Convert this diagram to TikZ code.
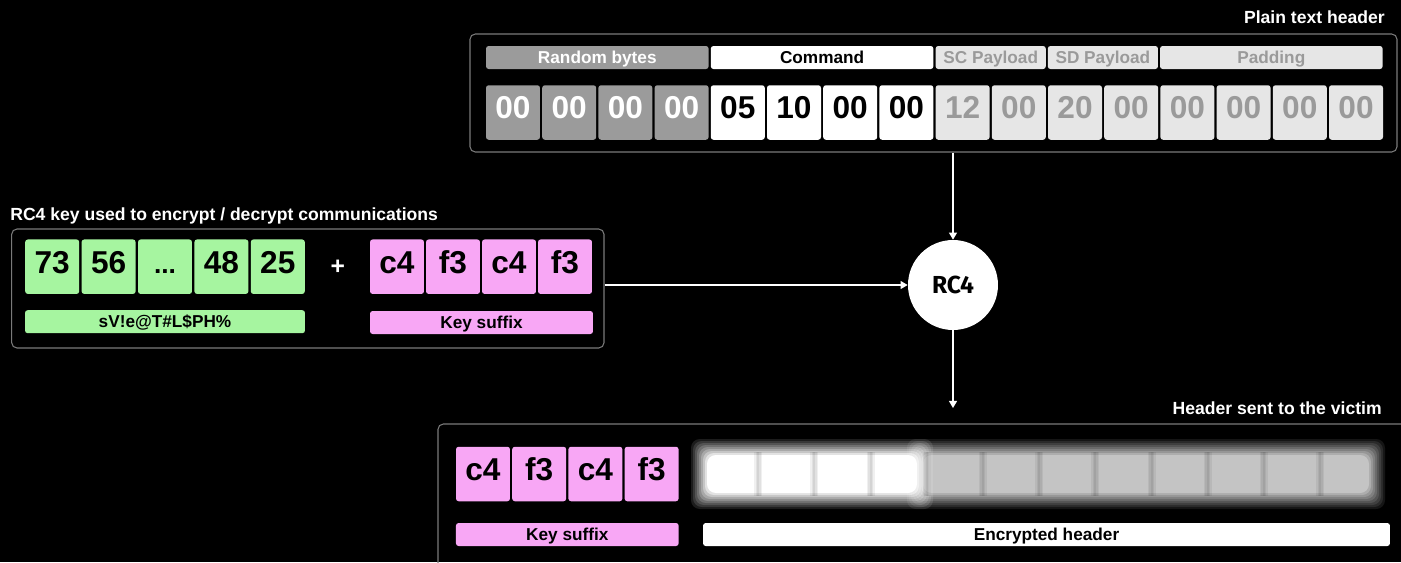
\documentclass[tikz,border=0pt]{standalone}
\usepackage{fontspec}
\setmainfont{Liberation Sans}
\newfontfamily\rcfont{Fira Sans}
\usetikzlibrary{arrows.meta,fit}

\definecolor{rndgray}{HTML}{9B9B9B}
\definecolor{padgray}{HTML}{E6E6E6}
\definecolor{padtext}{HTML}{9A9A9A}
\definecolor{keygreen}{HTML}{A6F5A0}
\definecolor{keypink}{HTML}{F8A7F5}
\definecolor{framegray}{HTML}{7A7A7A}
\definecolor{blurgray}{HTML}{C4C4C4}

\newcommand{\gapdots}{{\fontsize{15}{15}\selectfont...}}

\begin{document}
\begin{tikzpicture}[x=0.02cm, y=-0.02cm,
    frame/.style={draw=framegray, line width=0.6pt, rounded corners=3pt, inner sep=0pt},
    byte/.style={rounded corners=1.5pt, minimum width=1.08cm, minimum height=1.09cm, inner sep=0pt, text height=0.72em, text depth=0pt, font=\fontsize{18}{18}\selectfont\bfseries},
    tag/.style={rounded corners=1.5pt, minimum height=0.46cm, inner sep=0pt, text height=0.72em, text depth=0.05em, font=\fontsize{9.8}{10}\selectfont\bfseries},
    title/.style={text=white, inner sep=0pt, font=\fontsize{10}{12}\selectfont\bfseries},
    rndcell/.style={fill=rndgray, text=white},
    cmdcell/.style={fill=white, text=black},
    padcell/.style={fill=padgray, text=padtext},
    greencell/.style={fill=keygreen, text=black},
    pinkcell/.style={fill=keypink, text=black},
    flow/.style={draw=white, line width=0.8pt, -{Triangle[width=4.5pt,length=4pt]}}]
        \useasboundingbox (0,0) rectangle (1401,562);
        \fill[black] (0,0) rectangle (1401,562);
        \clip (0,0) rectangle (1401,562);

        % Plain text header
        \node[title, anchor=east] (PlainTitle) at (1385,17.5) {Plain text header};
        \node[frame, fit={(470,34) (1397,152)}] (PlainBox) {};
        \node[tag, rndcell, minimum width=4.452cm] (TagRandom) at (597.3,57.5) {Random bytes};
        \node[tag, cmdcell, minimum width=4.452cm] (TagCommand) at (822.1,57.5) {Command};
        \node[tag, padcell, minimum width=2.204cm] (TagSC) at (990.7,57.5) {SC Payload};
        \node[tag, padcell, minimum width=2.204cm] (TagSD) at (1102.9,57.5) {SD Payload};
        \node[tag, padcell, minimum width=4.452cm] (TagPadding) at (1271.3,57.5) {Padding};
        \foreach \v/\s [count=\i] in {00/rndcell,00/rndcell,00/rndcell,00/rndcell,05/cmdcell,10/cmdcell,00/cmdcell,00/cmdcell,12/padcell,00/padcell,20/padcell,00/padcell,00/padcell,00/padcell,00/padcell,00/padcell}
            \node[byte, \s] (Plain\i) at ({513+(\i-1)*56.2},112.5) {\v};

        % RC4 key
        \node[title, anchor=west] (KeyTitle) at (10,216) {RC4 key used to encrypt / decrypt communications};
        \node[frame, fit={(11.7,229) (604,348)}] (KeyBox) {};
        \foreach \v [count=\i] in {73,56,\gapdots,48,25}
            \node[byte, greencell] (Secret\i) at ({52.2+(\i-1)*56.4},266.7) {\v};
        \node[text=white, font=\fontsize{14}{14}\selectfont\bfseries] (Plus) at (337.7,267.5) {+};
        \foreach \v [count=\i] in {c4,f3,c4,f3}
            \node[byte, pinkcell] (Suffix\i) at ({397+(\i-1)*56},266.7) {\v};
        \node[tag, greencell, minimum width=5.6cm] (TagSecret) at (165,321.7) {sV!e@T\#L\$PH\%};
        \node[tag, pinkcell, minimum width=4.46cm] (TagSuffix) at (481.5,322.5) {Key suffix};

        % Cipher
        \node[circle, fill=white, minimum size=1.8cm, inner sep=0pt, font=\rcfont\fontsize{14}{14}\selectfont\bfseries] (RC4) at (953,285) {RC4};
        \coordinate (SentIn) at (953,408);

        % Header sent to the victim
        \node[title, anchor=east] (SentTitle) at (1382,408) {Header sent to the victim};
        \node[frame, fit={(438,424) (1412,580)}] (SentBox) {};
        \foreach \v [count=\i] in {c4,f3,c4,f3}
            \node[byte, pinkcell] (Sent\i) at ({483+(\i-1)*56.2},474) {\v};
        % blurred bytes: gray strip, white part on top, soft seams
        \foreach \m in {1,...,9} {
            \pgfmathsetmacro{\d}{10-2*\m}
            \pgfmathsetmacro{\op}{1/(10-\m)}
            \fill[blurgray, opacity=\op, rounded corners=5pt] (915-\d,447-\d) rectangle (1377+\d,501+\d);
        }
        \foreach \m in {1,...,9} {
            \pgfmathsetmacro{\d}{10-2*\m}
            \pgfmathsetmacro{\op}{1/(10-\m)}
            \fill[white, opacity=\op, rounded corners=5pt] (699-\d,447-\d) rectangle (925+\d,501+\d);
        }
        \foreach \i in {0,...,10} {
            \pgfmathsetmacro{\gx}{758.1+\i*56.2}
            \foreach \w in {4,2.5,1}
                \fill[black, opacity=0.06] (\gx-\w,452) rectangle (\gx+\w,496);
        }
        \node[tag, pinkcell, minimum width=4.454cm] (TagSentSuffix) at (567.3,534.5) {Key suffix};
        \node[tag, cmdcell, minimum width=13.74cm] (TagEncrypted) at (1046.5,534.5) {Encrypted header};

        % Arrows
        \draw[flow] (RC4 |- PlainBox.south) -- (RC4.north);
        \draw[flow] (KeyBox.east |- RC4) -- (RC4.west);
        \draw[flow] (RC4.south) -- (SentIn);
\end{tikzpicture}
\end{document}
